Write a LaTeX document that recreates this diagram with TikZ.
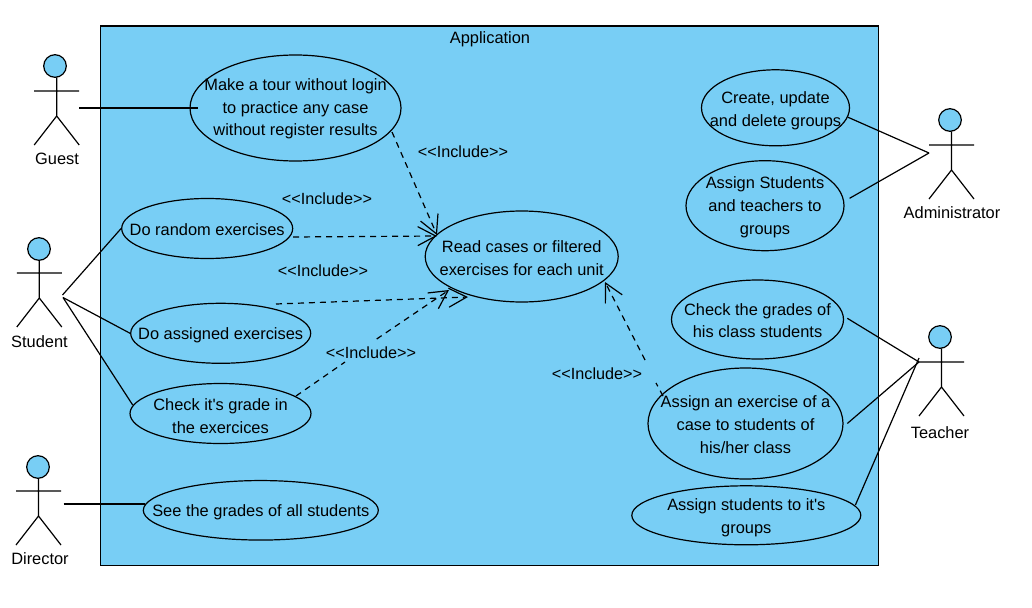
\documentclass[tikz,border=0pt]{standalone}
\usepackage{fontspec}
\setmainfont{Liberation Sans}
\usetikzlibrary{arrows.meta,shapes.geometric}
\definecolor{uml}{HTML}{78CEF5}
\tikzset{
  x=1pt,y=-1pt,
  usecase/.style={draw=black,line width=1.2pt,ellipse,inner sep=0pt},
  casetext/.style={inner sep=0pt,align=center,text=black,font=\fontsize{16.4}{22.7}\selectfont},
  lbl/.style={font=\fontsize{16.4}{19}\selectfont,inner sep=0pt,text=black},
  inclabel/.style={font=\fontsize{16.2}{19}\selectfont,inner sep=0pt,text=black},
  conn/.style={draw=black,line width=1.2pt},
  incl/.style={draw=black,line width=1.2pt,dash pattern=on 6pt off 5pt},
  opentip/.style={-{Straight Barb[length=18pt,width=19pt,line width=1.2pt]}},
}
\newcommand{\actor}[8]{% name, head x, head y, body x, arm y, label, label x, label y
  \fill[uml] (#2,#3) circle (11.3);
  \draw[conn] (#2,#3) circle (11.3);
  \draw[conn] (#4,#3+11.3) -- (#4,#5+25) (#4-22.5,#5) -- (#4+22.5,#5)
     (#4-22.5,#5+54) -- (#4,#5+25) -- (#4+22.5,#5+54);
  \node[lbl] (#1) at (#7,#8) {#6};
}
\newcommand{\ucase}[7][1]{% text dy, name, width, height, x, y, text
  \node[usecase,minimum width=#3pt,minimum height=#4pt] (#2) at (#5,#6) {};
  \node[casetext] (#2-text) at (#5,#6+#1) {#7};
}
\begin{document}
\begin{tikzpicture}
\useasboundingbox (0,0) rectangle (1032,607);
\fill[white] (0,0) rectangle (1032,607);
\node[draw=black,fill=uml,line width=1.2pt,minimum width=778pt,minimum height=539.5pt,inner sep=0pt,anchor=north west] (app) at (100,25.5) {};
\node[lbl] (apptitle) at (490,39) {Application};

\actor{guest}{55}{66}{56.7}{91}{Guest}{57}{159}
\actor{student}{39}{249}{39.3}{273}{Student}{39.5}{342}
\actor{director}{38}{467}{38.5}{491}{Director}{40}{559}
\actor{admin}{950}{120}{951.5}{145}{Administrator}{952}{213}
\actor{teacher}{940}{337}{941.5}{362}{Teacher}{940}{433}

\ucase{tour}{211}{106}{295.5}{108}{Make a tour without login\\to practice any case\\without register results}
\ucase{random}{171}{60}{207.2}{228.5}{Do random exercises}
\ucase[2]{assigned}{180}{60}{220.7}{333.3}{Do assigned exercises}
\ucase[2.5]{grade}{181}{60}{220.5}{413.5}{Check it\textquotesingle s grade in\\the exercices}
\ucase[2]{seeall}{235}{59.5}{260.8}{510.3}{See the grades of all students}
\ucase[1.5]{read}{193}{91}{521.7}{256.5}{Read cases or filtered\\exercises for each unit}
\ucase[3]{create}{148}{76}{775.5}{107.8}{Create, update\\and delete groups}
\ucase[1.5]{assignst}{158}{90}{765}{205.7}{Assign Students\\and teachers to\\groups}
\ucase{checkhis}{172}{79}{757.5}{319.5}{Check the grades of\\his class students}
\ucase{assignex}{195}{111}{745.5}{423.5}{Assign an exercise of a\\case to students of\\his/her class}
\ucase[2.5]{assigngr}{229}{59}{746.3}{515.3}{Assign students to it\textquotesingle s\\groups}

\node[inclabel] (l1) at (463,151.5) {<{}<Include>{}>};
\node[inclabel] (l2) at (327,198.5) {<{}<Include>{}>};
\node[inclabel] (l3) at (323,270.5) {<{}<Include>{}>};
\node[inclabel] (l4) at (371,352.5) {<{}<Include>{}>};
\node[inclabel] (l5) at (597,373.5) {<{}<Include>{}>};

% free ends of the actor associations
\coordinate (gE) at (79,108);
\coordinate (sE1) at (62.5,295);
\coordinate (sE2) at (63,297.5);
\coordinate (dE) at (63.5,504);
\coordinate (aE) at (929,153);
\coordinate (tE1) at (919,362);
\coordinate (tE2) at (919,358);

\draw[conn] (gE) -- ([xshift=9pt]tour.west);
\draw[conn] (sE1) -- (random.west);
\draw[conn] (sE2) -- (assigned.west);
\draw[conn] (sE2) -- ([xshift=3.3pt,yshift=8.5pt]grade.west);
\draw[conn] (dE) -- ([xshift=2pt,yshift=6.3pt]seeall.west);
\draw[conn] ([xshift=-2pt,yshift=-9.5pt]create.east) -- (aE);
\draw[conn] (aE) -- ([xshift=5pt,yshift=7.4pt]assignst.east);
\draw[conn] ([xshift=3.2pt,yshift=1.2pt]checkhis.east) -- (tE1);
\draw[conn] ([xshift=3.7pt]assignex.east) -- (tE1);
\draw[conn] ([xshift=-6pt,yshift=10.3pt]assigngr.east) -- (tE2);

% include dependencies
\coordinate (t1) at (392,132);
\coordinate (t2) at (437,235);
\coordinate (r1) at (293,237);
\coordinate (r2) at (437,236);
\coordinate (a1) at (276,304);
\coordinate (a2) at (468,297);
\coordinate (c1) at (296,396);
\coordinate (c2) at (345,362);
\coordinate (c3) at (376.7,339);
\coordinate (c4) at (449,290);
\coordinate (e1) at (663,396);
\coordinate (e2) at (656,383);
\coordinate (e3) at (645,360);
\coordinate (e4) at (605,282);
\draw[incl,opentip] (t1) -- (t2);
\draw[incl,opentip] (r1) -- (r2);
\draw[incl,opentip] (a1) -- (a2);
\draw[incl] (c1) -- (c2);
\draw[incl,opentip] (c3) -- (c4);
\draw[incl] (e1) -- (e2);
\draw[incl,opentip] (e3) -- (e4);
\end{tikzpicture}
\end{document}
